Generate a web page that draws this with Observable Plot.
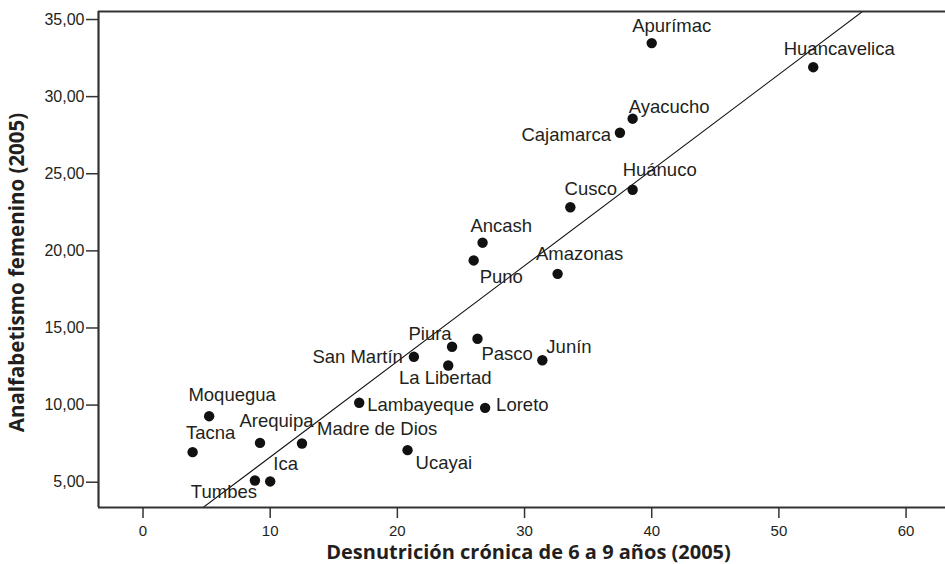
<!DOCTYPE html>
<html><head><meta charset="utf-8">
<script src="https://cdn.jsdelivr.net/npm/d3@7"></script>
<script src="https://cdn.jsdelivr.net/npm/@observablehq/plot@0.6"></script>
<style>body{margin:0;background:#fff;overflow:hidden}</style>
</head><body><div id="chart"></div>
<script>
const regions = ["Tacna","Moquegua","Arequipa","Madre de Dios","Tumbes","Ica","Lambayeque","San Martín","Piura","La Libertad","Pasco","Junín","Loreto","Ucayai","Puno","Ancash","Amazonas","Cusco","Cajamarca","Ayacucho","Huánuco","Apurímac","Huancavelica"];
const desnutricion = [3.9,5.2,9.2,12.5,8.8,10.0,17.0,21.3,24.3,24.0,26.3,31.4,26.9,20.8,26.0,26.7,32.6,33.6,37.5,38.5,38.5,40.0,52.7];
const analfabetismo = [6.95,9.28,7.55,7.51,5.11,5.05,10.15,13.13,13.78,12.57,14.30,12.91,9.82,7.08,19.38,20.53,18.51,22.83,27.66,28.57,23.96,33.47,31.91];
const xTicks = [0,10,20,30,40,50,60];
const yTicks = [5,10,15,20,25,30,35];
const xTitle = "Desnutrición crónica de 6 a 9 años (2005)";
const yTitle = "Analfabetismo femenino (2005)";

// label placement relative to each point: [dx, dy, textAnchor]
const labelPlacement = {
  "Tacna":[18,-19,"middle"], "Moquegua":[23,-21,"middle"], "Arequipa":[16.5,-22,"middle"],
  "Madre de Dios":[15,-14,"start"], "Tumbes":[-31,12,"middle"], "Ica":[15.5,-17,"middle"],
  "Lambayeque":[8,2,"start"], "San Martín":[-11,0,"end"], "Piura":[-22,-13,"middle"],
  "La Libertad":[-3,13,"middle"], "Pasco":[4,15,"start"], "Junín":[4,-13,"start"],
  "Loreto":[11,-3,"start"], "Ucayai":[8,13,"start"], "Puno":[6,17,"start"],
  "Ancash":[18.7,-17,"middle"], "Amazonas":[22,-20,"middle"], "Cusco":[20.5,-18,"middle"],
  "Cajamarca":[-9,2,"end"], "Ayacucho":[-4,-12,"start"], "Huánuco":[-10,-20,"start"],
  "Apurímac":[20,-17,"middle"], "Huancavelica":[26,-18,"middle"]
};

const data = regions.map((r, i) => ({region: r, x: desnutricion[i], y: analfabetismo[i]}));

// least-squares fit line
const mx = d3.mean(desnutricion), my = d3.mean(analfabetismo);
const slope = d3.sum(data, d => (d.x - mx) * (d.y - my)) / d3.sum(data, d => (d.x - mx) ** 2);
const intercept = my - slope * mx;
const xDomain = [-3.5, 63.1];
const yDomain = [3.36, 35.52];
const fit = xDomain.map(x => ({x, y: intercept + slope * x}));

const labelFont = "Liberation Sans, Arial, Helvetica, sans-serif";
const labelMarks = data.map(d => {
  const [dx, dy, anchor] = labelPlacement[d.region];
  return Plot.text([d], {x: "x", y: "y", text: "region", dx, dy, textAnchor: anchor,
    fontSize: 18.5, fill: "#231f20", fontFamily: labelFont});
});

const chart = Plot.plot({
  width: 945, height: 564,
  marginLeft: 98, marginTop: 11, marginRight: 0, marginBottom: 57,
  style: {fontFamily: labelFont, background: "#fff", overflow: "visible"},
  x: {domain: xDomain},
  y: {domain: yDomain},
  marks: [
    Plot.line(fit, {x: "x", y: "y", stroke: "#111", strokeWidth: 1.1, clip: true}),
    Plot.dot(data, {x: "x", y: "y", r: 5.2, fill: "#111", stroke: "none"}),
    ...labelMarks,
    Plot.axisX({ticks: xTicks, tickSize: 11, tickPadding: 7, fontSize: 15, stroke: "#333", strokeWidth: 1.5, color: "#231f20", label: null, tickFormat: d => String(d)}),
    Plot.axisY({ticks: yTicks, tickSize: 12, tickPadding: 2, fontSize: 16, stroke: "#333", strokeWidth: 1.5, color: "#231f20", label: null, tickFormat: d => d.toFixed(2).replace(".", ",")}),
    Plot.ruleX([xDomain[0]], {stroke: "#333", strokeWidth: 2.2}),
    Plot.ruleY([yDomain[0], yDomain[1]], {stroke: "#333", strokeWidth: 2.2}),
    Plot.text([xTitle], {text: d => d, frameAnchor: "bottom", dx: 6.5, dy: 45, fontSize: 20, fontWeight: "bold", fontFamily: "Open Sans, sans-serif", fill: "#231f20", textAnchor: "middle", lineAnchor: "middle"}),
    Plot.text([yTitle], {text: d => d, frameAnchor: "left", dx: -81, dy: 13, rotate: -90, fontSize: 20.5, fontWeight: "bold", fontFamily: "Open Sans, sans-serif", fill: "#231f20", textAnchor: "middle", lineAnchor: "middle"})
  ]
});
document.getElementById("chart").append(chart);
</script>
</body></html>
